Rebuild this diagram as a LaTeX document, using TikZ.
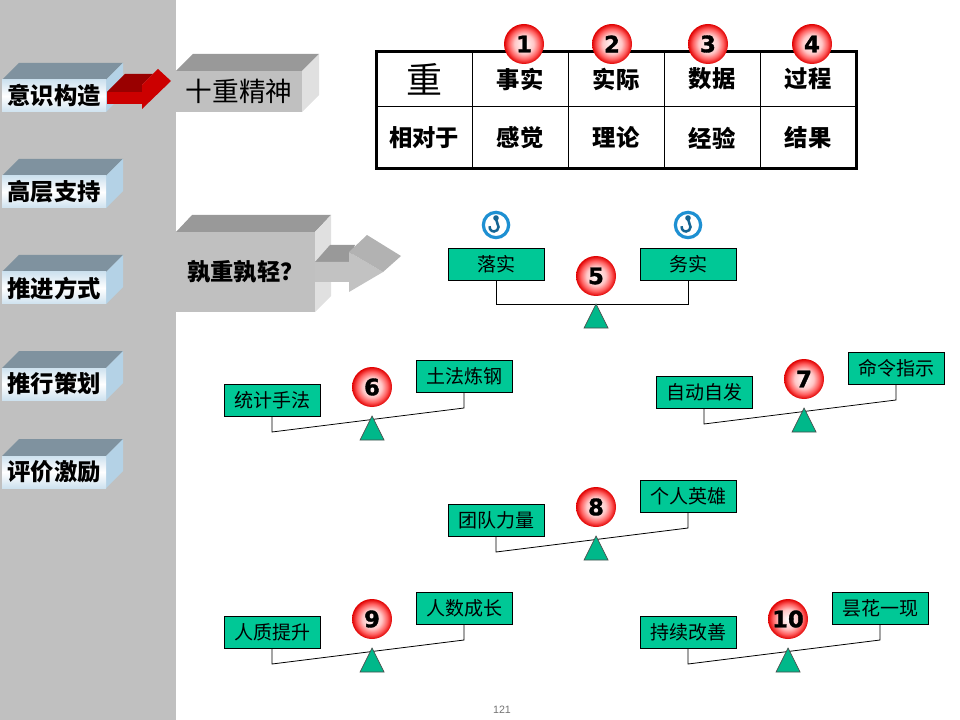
\documentclass[tikz,border=0pt]{standalone}
\usepackage{fontspec}
\setmainfont{Liberation Sans}
\newfontfamily\cjk{Noto Sans CJK SC}
\newfontfamily\numfont[FakeBold=1.5]{DejaVu Sans Bold}
\usetikzlibrary{positioning,calc}
\definecolor{sidebg}{HTML}{C0C0C0}
\definecolor{sidetop}{HTML}{7F929F}
\definecolor{sideface}{HTML}{B4D2E6}
\definecolor{pan}{HTML}{00C896}
\definecolor{hookblue}{HTML}{1E90D2}
\pgfdeclareradialshading{ballshade}{\pgfpoint{0bp}{0bp}}{%
  color(0bp)=(white); color(5bp)=(red!10!white); color(12bp)=(red!22!white);
  color(19bp)=(red!62!white); color(25bp)=(red!88!black); color(100bp)=(red!88!black)}
\newcommand{\menubox}[3]{%
  \fill[sidetop] (2,#2) -- (19,#2-17) -- (123,#2-17) -- (106,#2) -- cycle;
  \fill[sideface] (106,#2) -- (123,#2-17) -- (123,#2+15) -- (106,#2+32) -- cycle;
  \node[menu] (#1) at (54,#2+16) {#3};}
\newcommand{\hookmark}[2]{%
  \node[hookring] (#1) at #2 {};
  \draw[hookline] ($(#1)+(0,-6)$) -- ($(#1)+(2.5,2)$) arc[start angle=0,end angle=190,radius=4.5];
  \fill[hookblue!70!black] ($(#1)+(0,-7)$) circle (2.8);}
\begin{document}
\begin{tikzpicture}[
  x=0.75pt, y=-0.75pt, font=\cjk,
  menu/.style={minimum width=78pt, minimum height=24pt, inner sep=0pt,
               top color=sideface!65, bottom color=sideface!65, middle color=white,
               font=\cjk\bfseries\fontsize{17.5}{18}\selectfont},
  greyface/.style={fill=sidebg, inner sep=0pt},
  cell/.style={font=\cjk\bfseries\fontsize{17.5}{18}\selectfont, inner sep=0pt},
  ball/.style={circle, minimum size=30pt, inner sep=0pt, shading=ballshade,
               font=\numfont\fontsize{17}{17}\selectfont},
  weight/.style={rectangle, draw=black, fill=pan, line width=0.7pt, minimum width=72pt,
                 minimum height=24pt, inner sep=0pt, font=\cjk\fontsize{14.25}{14.25}\selectfont},
  beam/.style={draw=black, line width=0.6pt},
  pivot/.style={draw=black!70, fill=pan!92!black, line width=0.5pt},
  hookring/.style={circle, draw=hookblue, line width=2.4pt, minimum size=19pt, inner sep=0pt},
  hookline/.style={draw=hookblue!70!black, line width=1.9pt},
]
  \useasboundingbox (0,0) rectangle (960,720);
  \fill[sidebg] (0,0) rectangle (176,720);
  %% Left column
  \menubox{yishi}{80}{意识构造}
  \menubox{gaoceng}{176}{高层支持}
  \menubox{tuijin}{272}{推进方式}
  \menubox{tuixing}{368}{推行策划}
  \menubox{pingjia}{456}{评价激励}
  %% Red arrow
  \fill[red!60!black] (107,92) -- (125,74) -- (153,74) -- (142,85) -- (142,92) -- cycle;
  \fill[red!80!black] (107,92) rectangle (142,104);
  \fill[red!80!black] (142,109) -- (171,81) -- (158,69) -- (142,85) -- cycle;
  %% Grey title boxes
  \fill[black!40] (176,71) -- (193,54) -- (319,54) -- (302,71) -- cycle;
  \fill[black!12] (302,71) -- (319,54) -- (319,95) -- (302,112) -- cycle;
  \node[greyface, minimum width=94.5pt, minimum height=30.75pt,
        font=\cjk\fontsize{20}{20}\selectfont] (shizhong) at (239,91.5) {十重精神};
  \fill[black!40] (176,232) -- (192,215) -- (331,215) -- (315,232) -- cycle;
  \fill[black!12] (315,232) -- (331,215) -- (331,296) -- (315,312) -- cycle;
  \node[greyface, minimum width=104.25pt, minimum height=60pt,
        font=\cjk\bfseries\fontsize{17.5}{18}\selectfont] (shuzhong) at (245.5,272) {孰重孰轻？};
  %% Grey arrow
  \fill[black!40] (315,262) -- (330,245) -- (355,245) -- (349,262) -- cycle;
  \fill[black!24] (315,262) -- (349,262) -- (349,252) -- (383,272) -- (349,292) -- (349,282) -- (315,282) -- cycle;
  \fill[black!30] (349,252) -- (367,235) -- (401,256) -- (383,272) -- cycle;
  %% Table
  \draw[line width=0.75pt] (376,107) -- (857,107);
  \foreach \colx in {472,568,664,760}
    \draw[line width=0.75pt] (\colx,51) -- (\colx,168);
  \draw[line width=2pt] (376.5,51.3) rectangle (856.5,168.3);
  \node[font=\cjk\fontsize{27}{27}\selectfont, inner sep=0pt] (zhong) at (424,79) {重};
  \node[cell] (xiangdui) at (424,138) {相对于};
  \foreach \name/\colx/\upper/\lower in {a/520/事实/感觉,b/616/实际/理论,c/712/数据/经验,d/808/过程/结果} {
    \node[cell] (up\name) at (\colx,79) {\upper};
    \node[cell] (lo\name) at (\colx,138) {\lower};
  }
  \foreach \num/\ballx in {1/524,2/612,3/708,4/812}
    \node[ball] (ball\num) at (\ballx,44) {\num};
  %% Balances: number, left box corner, right box corner, pivot x, beam drop, ball y, pivot y
  \foreach \num/\lx/\ly/\rx/\ry/\px/\drop/\bally/\pivy/\left/\right in {
      5/448/248/640/248/596/56/276/304/落实/务实,
      6/224/384/416/360/372/48/387/416/统计手法/土法炼钢,
      7/656/376/848/352/804/48/379/408/自动自发/命令指示,
      8/448/504/640/480/596/48/507/536/团队力量/个人英雄,
      9/224/616/416/592/372/48/619/648/人质提升/人数成长,
      10/640/616/832/592/788/48/619/648/持续改善/昙花一现} {
    \node[weight] (lbox\num) at (\lx+48,\ly+16) {\left};
    \node[weight] (rbox\num) at (\rx+48,\ry+16) {\right};
    \coordinate (lend\num) at (\lx+48,\ly+\drop);
    \coordinate (rend\num) at (\rx+48,\ry+\drop);
    \draw[beam] (lbox\num.south) -- (lend\num) -- (rend\num) -- (rbox\num.south);
    \filldraw[pivot] (\px,\pivy) -- (\px+12,\pivy+24) -- (\px-12,\pivy+24) -- cycle;
    \node[ball] (ball\num) at (\px,\bally) {\num};
  }
  \hookmark{hookl}{(496,225)}
  \hookmark{hookr}{(688,225)}
  \node[text=black!55, font=\fontsize{8}{8}\selectfont, inner sep=0pt] (pageno) at (502,710) {121};
\end{tikzpicture}
\end{document}
